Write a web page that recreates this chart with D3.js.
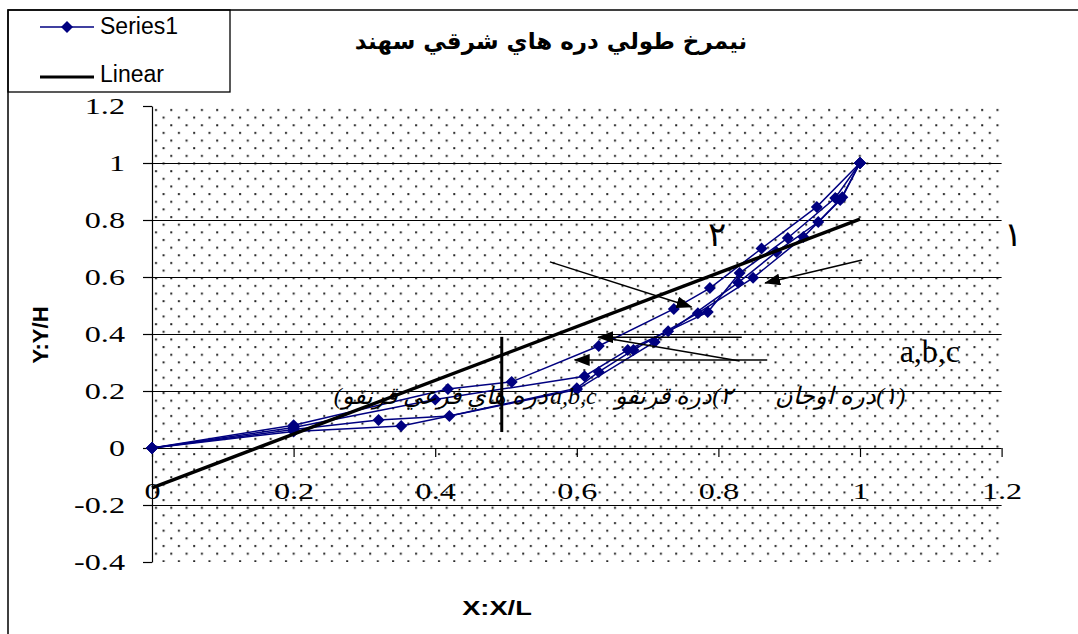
<!DOCTYPE html>
<html>
<head>
<meta charset="utf-8">
<script src="https://cdn.jsdelivr.net/npm/d3@7"></script>
<style>
body { margin: 0; background: #fff; }
</style>
</head>
<body>
<svg id="chart" width="1078" height="634"></svg>
<script>
// normalized long profiles of the valleys (X/L, Y/H)
var valleyA = [[0,0],[0.2,0.08],[0.418,0.207],[0.508,0.232],[0.631,0.358],[0.737,0.488],[0.788,0.561],[0.861,0.70],[0.939,0.846],[1,1]];
var valleyB = [[0,0],[0.2,0.072],[0.40,0.17],[0.611,0.252],[0.672,0.344],[0.729,0.41],[0.785,0.477],[0.83,0.614],[0.898,0.737],[0.965,0.877],[1,1]];
var valleyC = [[0,0],[0.2,0.065],[0.32,0.098],[0.42,0.112],[0.60,0.21],[0.631,0.267],[0.68,0.344],[0.771,0.473],[0.849,0.597],[0.92,0.74],[0.972,0.87],[1,1]];
var valleyD = [[0,0],[0.2,0.058],[0.352,0.077],[0.60,0.205],[0.71,0.372],[0.828,0.58],[0.882,0.688],[0.941,0.793],[0.975,0.88],[1,1]];
var series = [valleyA, valleyB, valleyC, valleyD];

// linear trend end points
var linearX = [0, 1];
var linearY = [-0.14, 0.803];

// vertical marker at x = 0.494
var barX = 0.494;
var barY = [0.056, 0.39];

// arrows [x1, y1, x2, y2] (data units), last one has no head
var arrows = [[0.562,0.653,0.762,0.495],[1.003,0.66,0.866,0.579],[0.833,0.389,0.63,0.389],[0.869,0.309,0.597,0.309]];
var arrowLines = [[0.83,0.305,0.64,0.386]];

var yTicks = [-0.4,-0.2,0,0.2,0.4,0.6,0.8,1,1.2];
var xTicks = [0,0.2,0.4,0.6,0.8,1,1.2];
var gridVals = [-0.2,0,0.2,0.4,0.6,0.8,1];

var title = "نيمرخ طولي دره هاي شرقي سهند";
var xTitle = "X:X/L", yTitle = "Y:Y/H";
var legendNames = ["Series1", "Linear"];

var svg = d3.select("#chart");
var x = d3.scaleLinear().domain([0, 1.2]).range([152, 1001.6]);
var y = d3.scaleLinear().domain([-0.4, 1.2]).range([562, 106]);

var defs = svg.append("defs");
var pat = defs.append("pattern").attr("id", "dots")
    .attr("patternUnits", "userSpaceOnUse")
    .attr("x", 152).attr("y", 106)
    .attr("width", 15.3).attr("height", 15.3);
pat.append("rect").attr("x", 3).attr("y", 3).attr("width", 2).attr("height", 2).attr("fill", "#222");
pat.append("rect").attr("x", 10.6).attr("y", 10.6).attr("width", 2).attr("height", 2).attr("fill", "#222");

defs.append("marker").attr("id", "head")
    .attr("markerUnits", "userSpaceOnUse")
    .attr("markerWidth", 16).attr("markerHeight", 12)
    .attr("refX", 15).attr("refY", 6)
    .attr("orient", "auto")
    .append("path").attr("d", "M0,0L16,6L0,12Z").attr("fill", "#000");

// outer frame + legend box
svg.append("path").attr("d", "M8,634V10H1078").attr("fill", "none").attr("stroke", "#000").attr("stroke-width", 1.5);
svg.append("rect").attr("x", 8).attr("y", 10).attr("width", 222).attr("height", 82)
    .attr("fill", "none").attr("stroke", "#000").attr("stroke-width", 1.3);

// plot background
svg.append("rect").attr("x", x(0)).attr("y", y(1.2))
    .attr("width", x(1.2) - x(0)).attr("height", y(-0.4) - y(1.2))
    .attr("fill", "url(#dots)");

svg.append("g").selectAll("line").data(gridVals).join("line")
    .attr("x1", x(0)).attr("x2", x(1.2))
    .attr("y1", function (d) { return Math.round(y(d)) + 0.5; }).attr("y2", function (d) { return Math.round(y(d)) + 0.5; })
    .attr("stroke", "#000").attr("stroke-width", 1.2);

function fmt(d) { return String(+d.toFixed(1)); }

var yAxis = svg.append("g").attr("transform", "translate(" + x(0) + ",0)")
    .call(d3.axisLeft(y).tickValues(yTicks).tickSize(9).tickSizeOuter(0).tickPadding(18).tickFormat(fmt));
yAxis.selectAll("text")
    .attr("x", 0)
    .attr("transform", "translate(-27,0) scale(1.4,1)")
    .style("font-family", "'Liberation Serif', 'Times New Roman', serif")
    .style("font-size", "23px").attr("fill", "#000");

var xAxis = svg.append("g").attr("transform", "translate(0," + y(0) + ")")
    .call(d3.axisBottom(x).tickValues(xTicks).tickSize(9).tickSizeOuter(0).tickPadding(26).tickFormat(fmt));
xAxis.select(".domain").remove();
xAxis.selectAll("text")
    .attr("transform", "scale(1.4,1)")
    .style("font-family", "'Liberation Serif', 'Times New Roman', serif")
    .style("font-size", "23px").attr("fill", "#000");
svg.selectAll(".tick line").attr("stroke", "#000").attr("stroke-width", 1.2);
yAxis.select(".domain").attr("stroke", "#000").attr("stroke-width", 1.2);

// valley profiles
var line = d3.line().x(function (d) { return x(d[0]); }).y(function (d) { return y(d[1]); });
var diamond = d3.symbol().type(d3.symbolSquare).size(72);
svg.append("g").selectAll("path").data(series).join("path")
    .attr("d", line).attr("fill", "none").attr("stroke", "#000080").attr("stroke-width", 1.5);
svg.append("g").selectAll("path").data(series.flat()).join("path")
    .attr("d", diamond)
    .attr("transform", function (d) { return "translate(" + x(d[0]) + "," + y(d[1]) + ") rotate(45)"; })
    .attr("fill", "#000080");

// linear trend
svg.append("line")
    .attr("x1", x(linearX[0])).attr("y1", y(linearY[0]))
    .attr("x2", x(linearX[1])).attr("y2", y(linearY[1]))
    .attr("stroke", "#000").attr("stroke-width", 3.4);

svg.append("line")
    .attr("x1", x(barX)).attr("x2", x(barX))
    .attr("y1", y(barY[0])).attr("y2", y(barY[1]))
    .attr("stroke", "#000").attr("stroke-width", 3);

svg.append("g").selectAll("line").data(arrows).join("line")
    .attr("x1", function (d) { return x(d[0]); }).attr("y1", function (d) { return y(d[1]); })
    .attr("x2", function (d) { return x(d[2]); }).attr("y2", function (d) { return y(d[3]); })
    .attr("stroke", "#000").attr("stroke-width", 1.5)
    .attr("marker-end", "url(#head)");
svg.append("g").selectAll("line").data(arrowLines).join("line")
    .attr("x1", function (d) { return x(d[0]); }).attr("y1", function (d) { return y(d[1]); })
    .attr("x2", function (d) { return x(d[2]); }).attr("y2", function (d) { return y(d[3]); })
    .attr("stroke", "#000").attr("stroke-width", 1.5);

// annotations
var serif = "'Liberation Serif', 'DejaVu Serif', serif";
svg.append("text").attr("x", x(0.798)).attr("y", y(0.71)).attr("text-anchor", "middle")
    .style("font-family", serif).style("font-size", "34px").text("۲");
svg.append("text").attr("x", x(1.216)).attr("y", y(0.71)).attr("text-anchor", "middle")
    .style("font-family", serif).style("font-size", "34px").text("۱");
svg.append("text").attr("x", x(1.056)).attr("y", y(0.302)).attr("text-anchor", "start")
    .style("font-family", serif).style("font-size", "32px").text("a,b,c");

var notes = [
    { t: "(۱)دره اوجان", x: 1.064, dir: "rtl" },
    { t: "۲)دره قرنقو", x: 0.821, dir: "rtl" },
    { t: "a,b,c", x: 0.628, dir: "ltr" },
    { t: "دره هاي فرعي قرنقو)", x: 0.559, dir: "rtl" }
];
svg.append("g").selectAll("text").data(notes).join("text")
    .attr("x", function (d) { return x(d.x); }).attr("y", y(0.155))
    .attr("direction", function (d) { return d.dir; })
    .attr("text-anchor", function (d) { return d.dir === "rtl" ? "start" : "end"; })
    .style("font-family", serif).style("font-style", "italic").style("font-size", "24px")
    .text(function (d) { return d.t; });

// titles
svg.append("text").attr("x", 551).attr("y", 49).attr("text-anchor", "middle")
    .attr("direction", "rtl")
    .style("font-family", "'DejaVu Sans', sans-serif").style("font-weight", "bold").style("font-size", "23px")
    .text(title);
svg.append("text").attr("transform", "translate(497,615) scale(1.3,1)").attr("text-anchor", "middle")
    .style("font-family", "'Liberation Sans', Arial, sans-serif").style("font-weight", "bold").style("font-size", "21px")
    .text(xTitle);
svg.append("text").attr("transform", "translate(48,335) rotate(-90)").attr("text-anchor", "middle")
    .style("font-family", "'Liberation Sans', Arial, sans-serif").style("font-weight", "bold").style("font-size", "22px")
    .text(yTitle);

// legend
var lg = svg.append("g");
lg.append("line").attr("x1", 40).attr("x2", 94).attr("y1", 27).attr("y2", 27).attr("stroke", "#000080").attr("stroke-width", 1.3);
lg.append("path").attr("d", diamond).attr("transform", "translate(67,27) rotate(45)").attr("fill", "#000080");
lg.append("line").attr("x1", 40).attr("x2", 94).attr("y1", 77).attr("y2", 77).attr("stroke", "#000").attr("stroke-width", 3.2);
lg.selectAll("text").data(legendNames).join("text")
    .attr("x", 100).attr("y", function (d, i) { return 34 + i * 48; })
    .style("font-family", "'Liberation Sans', Arial, sans-serif").style("font-size", "23px")
    .text(function (d) { return d; });
</script>
</body>
</html>
